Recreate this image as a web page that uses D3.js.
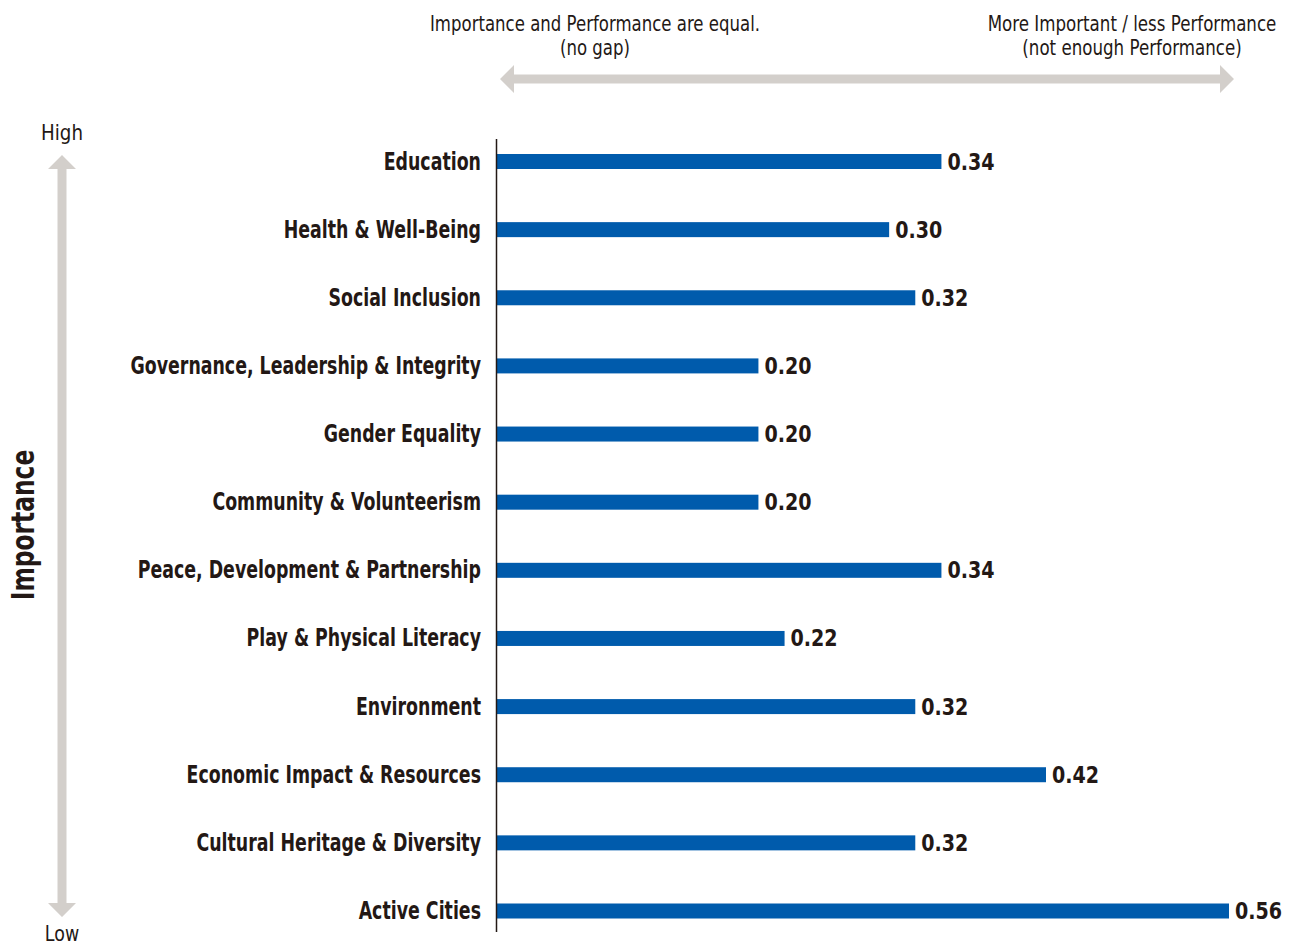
<!DOCTYPE html>
<html><head><meta charset="utf-8">
<script src="https://cdn.jsdelivr.net/npm/d3@7"></script>
<style>
html,body{margin:0;padding:0;background:#fff;}
svg{display:block;}
text{font-family:"DejaVu Sans",sans-serif;fill:#231815;}
</style></head>
<body>
<script>
const categories = ["Education","Health & Well-Being","Social Inclusion","Governance, Leadership & Integrity","Gender Equality","Community & Volunteerism","Peace, Development & Partnership","Play & Physical Literacy","Environment","Economic Impact & Resources","Cultural Heritage & Diversity","Active Cities"];
const values = [0.34,0.30,0.32,0.20,0.20,0.20,0.34,0.22,0.32,0.42,0.32,0.56];
const headerLeft = ["Importance and Performance are equal.","(no gap)"];
const headerRight = ["More Important / less Performance","(not enough Performance)"];
const axisTitle = "Importance";
const highLabel = "High", lowLabel = "Low";

const W=1290,H=945;
const svg=d3.select("body").append("svg").attr("width",W).attr("height",H);

const x=d3.scaleLinear().domain([0,0.56]).range([497,1229]);
const y=d3.scalePoint().domain(categories).range([161.5,911]);

const barColor="#005bac", arrowColor="#d3cfcb";

// condensed text helper
function ctext(px,py,str,opts){
  const g=svg.append("g").attr("transform",`translate(${px},${py})${opts.rotate?` rotate(${opts.rotate})`:""} scale(${opts.sx||0.8},1)`);
  return g.append("text").attr("x",0).attr("y",0)
    .attr("text-anchor",opts.anchor||"start").attr("font-size",opts.size)
    .attr("font-weight",opts.bold?"bold":"normal").text(str);
}

// bars
svg.selectAll("rect.bar").data(categories).join("rect").attr("class","bar")
  .attr("x",x(0)).attr("y",d=>y(d)-7.5)
  .attr("width",(d,i)=>x(values[i])-x(0)).attr("height",15).attr("fill",barColor);

categories.forEach((c,i)=>{
  ctext(481,y(c)+8,c,{anchor:"end",size:24.5,bold:true,sx:0.71});
  ctext(x(values[i])+6,y(c)+8,values[i].toFixed(2),{size:23,bold:true,sx:0.83});
});

// vertical axis line
svg.append("line").attr("x1",496.5).attr("x2",496.5).attr("y1",139).attr("y2",932)
  .attr("stroke","#231815").attr("stroke-width",1.5);

// horizontal double arrow
function hArrow(x1,x2,yc){
  const hw=4.5, ah=14, al=14;
  const p=`M${x1},${yc} L${x1+al},${yc-ah} L${x1+al},${yc-hw} L${x2-al},${yc-hw} L${x2-al},${yc-ah} L${x2},${yc} L${x2-al},${yc+ah} L${x2-al},${yc+hw} L${x1+al},${yc+hw} L${x1+al},${yc+ah} Z`;
  svg.append("path").attr("d",p).attr("fill",arrowColor);
}
hArrow(500,1234,79);
function vArrow(xc,y1,y2){
  const hw=4.5, ah=14, al=14;
  const p=`M${xc},${y1} L${xc+ah},${y1+al} L${xc+hw},${y1+al} L${xc+hw},${y2-al} L${xc+ah},${y2-al} L${xc},${y2} L${xc-ah},${y2-al} L${xc-hw},${y2-al} L${xc-hw},${y1+al} L${xc-ah},${y1+al} Z`;
  svg.append("path").attr("d",p).attr("fill",arrowColor);
}
vArrow(62,155,917);

// headers
headerLeft.forEach((t,i)=>ctext(595,31+i*24,t,{anchor:"middle",size:22,sx:0.753}));
headerRight.forEach((t,i)=>ctext(1132,31+i*24,t,{anchor:"middle",size:22,sx:0.758}));

ctext(62,140,highLabel,{anchor:"middle",size:22,sx:0.83});
ctext(62,941,lowLabel,{anchor:"middle",size:21,sx:0.83});

ctext(34,525,axisTitle,{anchor:"middle",size:32,bold:true,sx:0.73,rotate:-90});
</script>
</body></html>
